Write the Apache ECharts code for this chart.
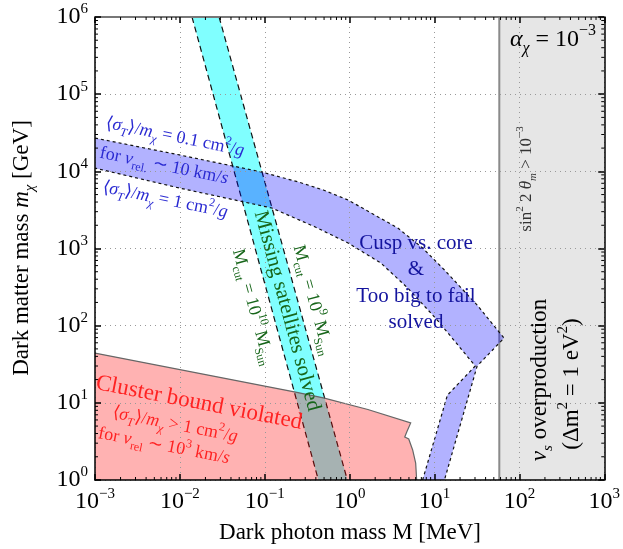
<!DOCTYPE html>
<html><head><meta charset="utf-8">
<script src="https://cdn.jsdelivr.net/npm/echarts@6/dist/echarts.min.js"></script>
<style>html,body{margin:0;padding:0;background:#fff}#c{width:623px;height:549px}</style>
</head><body><div id="c"></div>
<script>
// ---------- data (x: dark photon mass M [MeV], y: dark matter mass [GeV]) ----------
const xRange = [1e-3, 1e3];
const yRange = [1, 1e6];
// sigma/m = 0.1 cm^2/g boundary (upper edge of blue band), left -> tip
const blueUpper = [[1e-3, 2.7e4], [0.0099, 1.63e4], [0.092, 9.8e3], [0.25, 7.27e3], [0.49, 5730], [0.96, 4.25e3], [1.88, 2800], [3.69, 1845], [7.24, 1015], [13.1, 526], [31.8, 185], [65.9, 69]];
const blueArmRight = [[31.8, 30], [13.1, 1]];
const blueArmLeft = [[7.24, 1], [14.2, 12.6]];
// sigma/m = 1 cm^2/g boundary (lower edge), right -> left
const blueLower = [[30.2, 30], [10.8, 118], [4.83, 308], [2.33, 649], [0.96, 1178], [0.394, 1898], [0.121, 3350], [0.00986, 6080], [1e-3, 1.1e4]];
// missing satellites band edges
const satLeft = [[0.0139, 1e6], [0.428, 1]];   // M_cut = 10^10 M_sun
const satRight = [[0.029, 1e6], [0.94, 1]];    // M_cut = 10^9 M_sun
// cluster bound boundary
const clusterTop = [[1e-3, 44.2], [0.231, 13.8], [0.49, 11.6], [1.64, 8.2], [5.24, 5.48], [4.71, 4.19], [4.46, 3.61], [4.97, 3.40], [5.53, 2.45], [6.0, 1.66], [6.16, 1]];
// sterile neutrino overproduction limit
const nuLimit = 58;
const decadesX = [-3, -2, -1, 0, 1, 2, 3];
const decadesY = [0, 1, 2, 3, 4, 5, 6];

const F = 'Liberation Serif';
const minorX = [], minorY = [];
decadesX.slice(0, -1).forEach(e => { for (let k = 2; k <= 9; k++) minorX.push(k * Math.pow(10, e)); });
decadesY.slice(0, -1).forEach(e => { for (let k = 2; k <= 9; k++) minorY.push(k * Math.pow(10, e)); });

function supLabel(v) {
  const e = Math.round(Math.log10(v));
  return '{b|10}{s|' + (e < 0 ? '\u2212' + (-e) : e) + '}';
}
const tickRich = {
  b: { fontSize: 24, fontFamily: F, color: '#000', lineHeight: 30 },
  s: { fontSize: 15, fontFamily: F, color: '#000', lineHeight: 16, verticalAlign: 'top' }
};

function poly(pts, style, z2) {
  return { type: 'custom', coordinateSystem: 'cartesian2d', z: 1, silent: true, data: [[1, 1]], clip: true,
    renderItem: (p, api) => ({ type: 'polygon', z2: z2, shape: { points: pts.map(q => api.coord(q)) }, style: style }) };
}
function pline(pts, style, z2) {
  return { type: 'custom', coordinateSystem: 'cartesian2d', z: 1, silent: true, data: [[1, 1]], clip: true,
    renderItem: (p, api) => ({ type: 'polyline', z2: z2, shape: { points: pts.map(q => api.coord(q)) }, style: Object.assign({ fill: 'none' }, style) }) };
}

function rich(s, color) {
  const L = Math.round(s * 1.4), hb = Math.round(s * 1.0), hp = Math.round(s * 0.8), ss = Math.round(s * 0.65);
  const base = { fontFamily: F, color: color };
  return {
    r: Object.assign({ fontSize: s, lineHeight: L }, base),
    i: Object.assign({ fontSize: s, lineHeight: L, fontStyle: 'italic' }, base),
    b: Object.assign({ fontSize: ss, lineHeight: hb, verticalAlign: 'bottom' }, base),
    bi: Object.assign({ fontSize: ss, lineHeight: hb, verticalAlign: 'bottom', fontStyle: 'italic' }, base),
    p: Object.assign({ fontSize: ss, lineHeight: hp, verticalAlign: 'top' }, base),
    pi: Object.assign({ fontSize: ss, lineHeight: hp, verticalAlign: 'top', fontStyle: 'italic' }, base)
  };
}
const deg = Math.PI / 180;
function txt(x, y, rotDeg, text, size, color, extra) {
  return { type: 'text', x: x, y: y, rotation: rotDeg * deg, z: 100, silent: true,
    style: Object.assign({ text: text, rich: rich(size, color), fill: color, font: size + 'px "' + F + '"', align: 'center', verticalAlign: 'middle' }, extra || {}) };
}

const blueC = '#2a2ad2', greenC = '#17661a', redC = '#ff2222', navy = '#14149e';
const satAng = -74.8, blueAng = -11.5, redAng = -11;

const chart = echarts.init(document.getElementById('c'), null, { renderer: 'canvas' });
const axisCommon = {
  type: 'log', logBase: 10, splitNumber: 6, z: 3,
  axisTick: { inside: true, length: 6, lineStyle: { color: '#000', width: 1.5 } },
  minorTick: { show: false }
};
chart.setOption({
  animation: false,
  grid: { left: 95, right: 15, top: 17, bottom: 69 },
  xAxis: [
    Object.assign({}, axisCommon, { min: xRange[0], max: xRange[1], position: 'bottom',
      axisLine: { lineStyle: { color: '#000', width: 1.5 } },
      axisLabel: { formatter: supLabel, rich: tickRich, margin: 7, showMinLabel: true, showMaxLabel: true },
      splitLine: { show: true, lineStyle: { color: '#999', type: [1, 4], width: 1 } } }),
    Object.assign({}, axisCommon, { min: xRange[0], max: xRange[1], position: 'top',
      axisLine: { lineStyle: { color: '#777', width: 2 } }, axisLabel: { show: false }, splitLine: { show: false } })
  ],
  yAxis: [
    Object.assign({}, axisCommon, { min: yRange[0], max: yRange[1], position: 'left',
      axisLine: { lineStyle: { color: '#000', width: 1.5 } },
      axisLabel: { formatter: supLabel, rich: tickRich, margin: 7, showMinLabel: true, showMaxLabel: true },
      splitLine: { show: true, lineStyle: { color: '#999', type: [1, 4], width: 1 } } }),
    Object.assign({}, axisCommon, { min: yRange[0], max: yRange[1], position: 'right',
      axisLine: { lineStyle: { color: '#000', width: 1.5 } }, axisLabel: { show: false }, splitLine: { show: false } })
  ],
  series: [
    poly([[nuLimit, yRange[0]], [nuLimit, yRange[1]], [xRange[1], yRange[1]], [xRange[1], yRange[0]]], { fill: '#e6e6e6' }, 1),
    pline([[nuLimit, yRange[0]], [nuLimit, yRange[1]]], { stroke: '#8a8a8a', lineWidth: 2 }, 2),
    poly([satLeft[0], satRight[0], satRight[1], satLeft[1]], { fill: '#80ffff' }, 3),
    pline(satLeft, { stroke: '#111', lineWidth: 1.2, lineDash: [6, 4] }, 4),
    pline(satRight, { stroke: '#111', lineWidth: 1.2, lineDash: [6, 4] }, 4),
    poly(blueUpper.concat(blueArmRight, blueArmLeft, blueLower), { fill: 'rgba(0,0,255,0.3)' }, 5),
    pline(blueUpper.concat(blueArmRight), { stroke: '#111', lineWidth: 1.2, lineDash: [3, 3] }, 6),
    pline(blueArmLeft.concat(blueLower), { stroke: '#111', lineWidth: 1.2, lineDash: [3, 3] }, 6),
    poly(clusterTop.concat([[xRange[0], yRange[0]]]), { fill: 'rgba(255,0,0,0.3)' }, 7),
    pline(clusterTop, { stroke: '#666', lineWidth: 1.2 }, 8),
    { type: 'custom', coordinateSystem: 'cartesian2d', z: 4, silent: true, data: [[1, 1]],
      renderItem: (params, api) => {
        const cs = params.coordSys, ch = [];
        const st = { stroke: '#000', lineWidth: 1 };
        minorX.forEach(v => { const p = api.coord([v, yRange[0]]);
          ch.push({ type: 'line', shape: { x1: p[0], y1: cs.y + cs.height, x2: p[0], y2: cs.y + cs.height - 3 }, style: st });
          ch.push({ type: 'line', shape: { x1: p[0], y1: cs.y, x2: p[0], y2: cs.y + 3 }, style: st }); });
        minorY.forEach(v => { const p = api.coord([xRange[0], v]);
          ch.push({ type: 'line', shape: { x1: cs.x, y1: p[1], x2: cs.x + 3, y2: p[1] }, style: st });
          ch.push({ type: 'line', shape: { x1: cs.x + cs.width, y1: p[1], x2: cs.x + cs.width - 3, y2: p[1] }, style: st }); });
        return { type: 'group', children: ch };
      } }
  ],
  graphic: [
    txt(350, 533, 0, '{r|Dark photon mass M [MeV]}', 23, '#000'),
    txt(22, 248, 90, '{r|Dark matter mass }{i|m}{bi|χ}{r| [GeV]}', 23, '#000'),
    txt(175, 137, blueAng, '{r|⟨}{i|σ}{bi|T}{r|⟩/}{i|m}{bi|χ}{r| = 0.1 cm}{p|2}{r|/}{i|g}', 18, blueC),
    txt(164, 166, blueAng, '{r|for }{i|v}{b|rel.}{r| ∼ 10 km/}{i|s}', 18, blueC),
    txt(165, 200, blueAng, '{r|⟨}{i|σ}{bi|T}{r|⟩/}{i|m}{bi|χ}{r| = 1 cm}{p|2}{r|/}{i|g}', 18, blueC),
    txt(287, 311, satAng, '{r|Missing satellites solved}', 21, greenC),
    txt(313, 300, satAng, '{r|M}{b|cut}{r| = 10}{p|9}{r| M}{b|Sun}', 18, greenC),
    txt(253, 307, satAng, '{r|M}{b|cut}{r| = 10}{p|10}{r| M}{b|Sun}', 18, greenC),
    { type: 'text', x: 416, y: 283, z: 100, silent: true,
      style: { text: 'Cusp vs. core\n&\nToo big to fail\nsolved', fill: navy, font: '21px "' + F + '"', lineHeight: 26.5, align: 'center', verticalAlign: 'middle' } },
    txt(553, 40, 0, '{i|α}{bi|χ}{r| = 10}{p|−3}', 24, '#000'),
    txt(527, 179, 90, '{r|sin}{p|2}{r| 2 }{i|θ}{bi|m}{r| > 10}{p|−3}', 17, '#333'),
    txt(540, 380, 90, '{i|ν}{bi|s}{r| overproduction}', 23, '#000'),
    txt(572, 384, 90, '{r|(Δm}{p|2}{r| = 1 eV}{p|2}{r|)}', 23, '#000'),
    txt(199, 403, redAng, '{r|Cluster bound violated}', 23, redC),
    txt(175, 425, redAng, '{r|⟨}{i|σ}{bi|T}{r|⟩/}{i|m}{bi|χ}{r| > 1 cm}{p|2}{r|/}{i|g}', 18, redC),
    txt(164, 446, redAng, '{r|for }{i|v}{b|rel}{r| ∼ 10}{p|3}{r| km/}{i|s}', 18, redC)
  ]
});
</script></body></html>
